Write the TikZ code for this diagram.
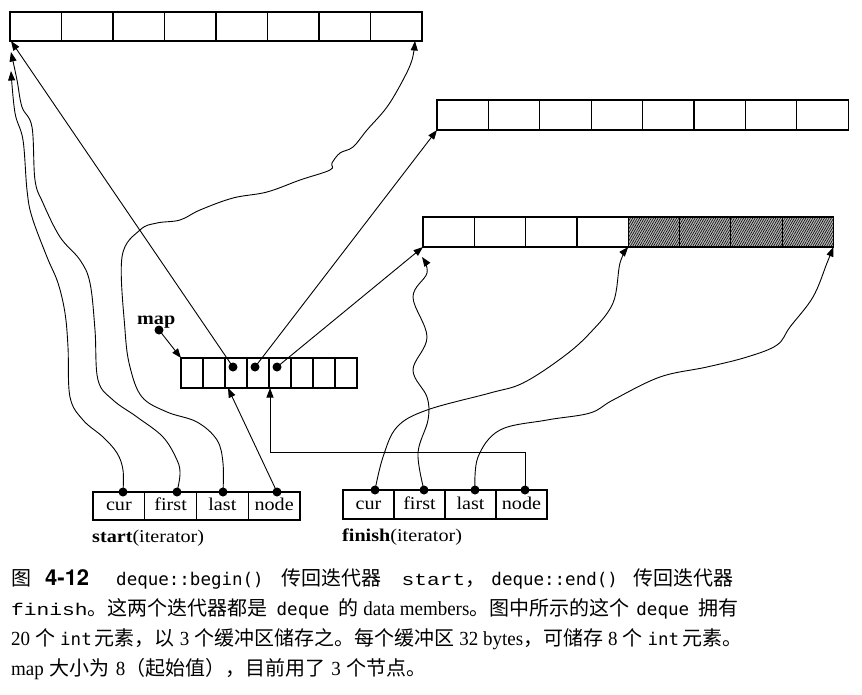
\documentclass[tikz,border=0pt]{standalone}
\usepackage{fontspec}
\setmainfont{Liberation Serif}[FakeStretch=1.12]
\newfontfamily\cjkfam{Noto Sans CJK SC}
\newfontfamily\capserfam{Liberation Serif}[FakeStretch=0.95]
\newfontfamily\capmonofam{DejaVu Sans Mono}
\newfontfamily\capthinfam{Liberation Mono}[FakeStretch=1.25]
\newfontfamily\capheros{TeX Gyre Heros}
\usetikzlibrary{arrows.meta,patterns.meta,calc}
\newcommand\capzh{\cjkfam\fontsize{20}{24}\selectfont}
\newcommand\capmono[1]{{\capmonofam\fontsize{17.5}{20}\selectfont #1}}
\newcommand\capthin[1]{{\capthinfam\fontsize{17}{20}\selectfont #1}}
\newcommand\capser[1]{{\capserfam\fontsize{20}{22}\selectfont #1}}
\begin{document}
\begin{tikzpicture}[x=1pt,y=-1pt,
  cell/.style={draw,line width=1.2pt,inner sep=0pt,outer sep=0pt,anchor=north west},
  dotn/.style={circle,fill,inner sep=0pt,minimum size=9pt},
  arr/.style={line width=0.9pt,-{Triangle[length=9.5pt,width=7pt]}},
  hatch/.style={preaction={fill=gray!55},pattern={Lines[angle=60,distance=2pt,line width=0.6pt]},pattern color=black},
  lab/.style={font=\fontsize{18}{21}\selectfont},
  itl/.style={text height=12pt,text depth=3pt},
  capline/.style={anchor=base west,inner sep=0pt,font=\capzh}
]
\useasboundingbox (0,0) rectangle (862,694);

% buffers
\foreach \i in {1,...,8}
  \node[cell,minimum width=51.5pt,minimum height=29pt] (A\i) at ({10+(\i-1)*51.5},12) {};
\foreach \i in {1,...,8}
  \node[cell,minimum width=51.4pt,minimum height=30pt] (B\i) at ({437+(\i-1)*51.4},100) {};
\foreach \i in {1,...,4}
  \node[cell,minimum width=51.3pt,minimum height=30pt] (C\i) at ({423+(\i-1)*51.3},217) {};
\foreach \i in {5,...,8}
  \node[cell,hatch,minimum width=51.3pt,minimum height=30pt] (C\i) at ({423+(\i-1)*51.3},217) {};

% map
\foreach \i in {1,...,8}
  \node[cell,minimum width=22pt,minimum height=30pt] (M\i) at ({181+(\i-1)*22},358) {};
\node[anchor=base west,inner sep=0pt,font=\fontsize{18}{21}\selectfont\bfseries] (maplab) at (137,324) {map};
\node[dotn] (mapdot) at (159,330) {};
\node[dotn] (dM3) at (233,367) {};
\node[dotn] (dM4) at (255,367) {};
\node[dotn] (dM5) at (277,367) {};

% iterators
\foreach \n [count=\i] in {cur,first,last,node}
  \node[cell,lab,itl,minimum width=51.75pt,minimum height=28pt] (S\n) at ({93+(\i-1)*51.75},492) {\n};
\foreach \n [count=\i] in {cur,first,last,node}
  \node[cell,lab,itl,minimum width=51pt,minimum height=29pt] (F\n) at ({343+(\i-1)*51},490) {\n};
\node[anchor=base west,inner sep=0pt,lab] (slab) at (92,542) {\textbf{start}(iterator)};
\node[anchor=base west,inner sep=0pt,lab] (flab) at (342,541) {\textbf{finish}(iterator)};

\node[dotn] (dScur) at (123,492) {};
\node[dotn] (dSfirst) at (177,492) {};
\node[dotn] (dSlast) at (223,492) {};
\node[dotn] (dSnode) at (277,492) {};
\node[dotn] (dFcur) at (375,490) {};
\node[dotn] (dFfirst) at (424,490) {};
\node[dotn] (dFlast) at (475,490) {};
\node[dotn] (dFnode) at (525,490) {};

% straight connectors
\draw[arr] (mapdot.center) -- (M1.north west);
\draw[arr] (dM3.center) -- ([xshift=1pt]A1.south west);
\draw[arr] (dM4.center) -- (B1.south west);
\draw[arr] (dM5.center) -- (C1.south west);
\draw[arr] (dSnode.center) -- ([xshift=3pt]M3.south west);
\draw[arr] (dFnode.center) |- ([xshift=1pt,yshift=-64pt]M5.south west) -- ([xshift=1pt]M5.south west);

% curved connectors (start)
\draw[arr] plot[smooth,tension=0.6] coordinates {(dScur.center) (123,470) (117,453) (103,437) (83,420) (70,397) (68,347) (65,313) (58,283) (47,257) (32,217) (27,190) (23,140) (15,113) ([xshift=1pt,yshift=-30pt]A1.south west)};
\draw[arr] plot[smooth,tension=0.6] coordinates {(dSfirst.center) (180,474) (177,460) (163,437) (137,417) (113,400) (98,380) (95,330) (90,283) (80,260) (60,237) (43,203) (35,180) (32,127) (22,107) (17,80) ([xshift=1pt,yshift=-11pt]A1.south west)};
\draw[arr] plot[smooth,tension=0.6] coordinates {(dSlast.center) (223,463) (217,440) (197,422) (167,412) (142,397) (130,367) (125,330) (122,257) (140,230) (157,223) (180,220) (200,210) (233,198) (267,192) (300,180) (330,170) (332,163) (340,153) (353,147) (367,130) (387,107) (403,80) (412,60) ([xshift=-7pt]A8.south east)};
% curved connectors (finish)
\draw[arr] plot[smooth,tension=0.6] coordinates {(dFcur.center) (383,457) (397,427) (427,410) (490,393) (523,383) (563,357) (590,333) (613,303) (620,263) (C5.south west)};
\draw[arr] plot[smooth,tension=0.6] coordinates {(dFfirst.center) (418,453) (428,420) (427,397) (413,370) (427,337) (413,297) (427,273) ([xshift=-1pt,yshift=-10pt]C1.south west)};
\draw[arr] plot[smooth,tension=0.6] coordinates {(dFlast.center) (478,457) (500,430) (547,420) (590,413) (613,400) (660,377) (707,367) (747,357) (777,345) (790,327) (813,297) (827,263) (C8.south east)};

% caption
\node[capline] (cap1) at (11,585) {图\hspace{14pt}{\capheros\bfseries\fontsize{22}{24}\selectfont 4-12}\hspace{27pt}\capmono{deque::begin()}\hspace{18pt}传回迭代器\hspace{20pt}\capthin{start}，\hspace{6pt}\capmono{deque::end()}\hspace{16pt}传回迭代器};
\node[capline] (cap2) at (11,615) {\capthin{finish}。这两个迭代器都是\hspace{9pt}\capmono{deque}\hspace{9pt}的\hspace{5pt}\capser{data members}。图中所示的这个\hspace{7pt}\capmono{deque}\hspace{9pt}拥有};
\node[capline] (cap3) at (11,645) {\capser{20}\hspace{5pt}个\hspace{5pt}\capmono{int}\hspace{3pt}元素，以\hspace{5pt}\capser{3}\hspace{5pt}个缓冲区储存之。每个缓冲区\hspace{5pt}\capser{32 bytes}，可储存\hspace{5pt}\capser{8}\hspace{5pt}个\hspace{5pt}\capmono{int}\hspace{3pt}元素。};
\node[capline] (cap4) at (11,675) {\capser{map}\hspace{6pt}大小为\hspace{6pt}\capser{8}（起始值），目前用了\hspace{6pt}\capser{3}\hspace{6pt}个节点。};
\end{tikzpicture}
\end{document}
